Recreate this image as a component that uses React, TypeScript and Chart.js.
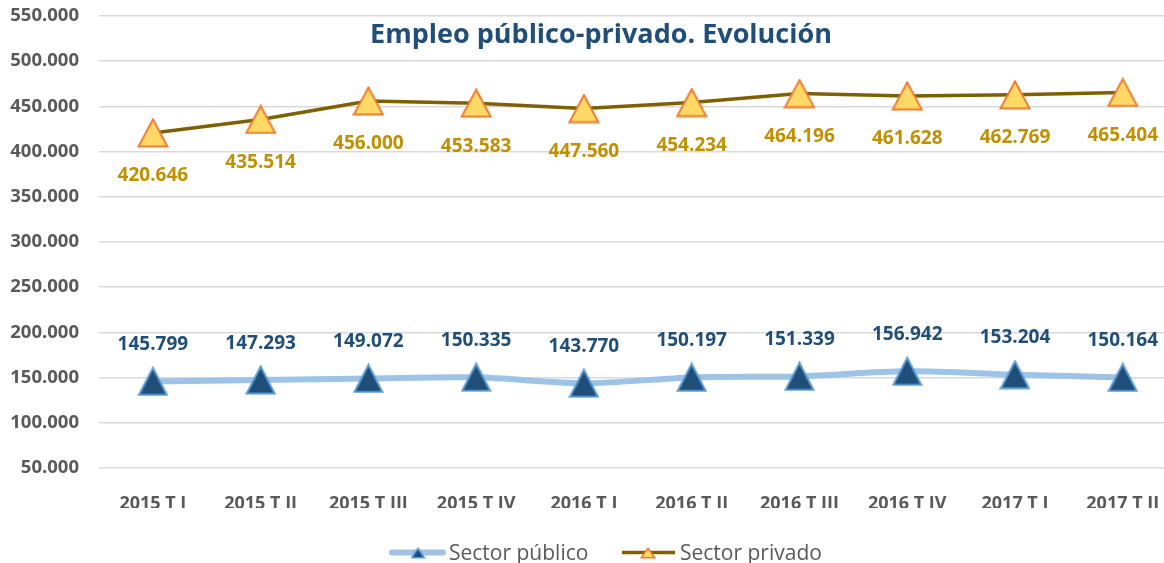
import React, { useEffect, useRef } from "react";
import { Chart, registerables } from "chart.js";

Chart.register(...registerables);

const categories = [
  "2015 T I", "2015 T II", "2015 T III", "2015 T IV",
  "2016 T I", "2016 T II", "2016 T III", "2016 T IV",
  "2017 T I", "2017 T II",
];
const sectorPublico = [145799, 147293, 149072, 150335, 143770, 150197, 151339, 156942, 153204, 150164];
const sectorPrivado = [420646, 435514, 456000, 453583, 447560, 454234, 464196, 461628, 462769, 465404];
const yTicks = [50000, 100000, 150000, 200000, 250000, 300000, 350000, 400000, 450000, 500000, 550000];
const seriesNames = ["Sector público", "Sector privado"];
const titleText = "Empleo público-privado. Evolución";

const FONT = "'Open Sans', 'DejaVu Sans', sans-serif";
const GRAY = "#595959";

const fmt = (n: number) => String(Math.round(n)).replace(/\B(?=(\d{3})+(?!\d))/g, ".");

function triangle(w: number, h: number, fill: string, stroke: string, lw: number) {
  const c = document.createElement("canvas");
  c.width = w;
  c.height = h;
  const ctx = c.getContext("2d")!;
  const i = lw / 2 + 0.5;
  ctx.beginPath();
  ctx.moveTo(w / 2, i);
  ctx.lineTo(w - i, h - i);
  ctx.lineTo(i, h - i);
  ctx.closePath();
  ctx.fillStyle = fill;
  ctx.fill();
  ctx.lineWidth = lw;
  ctx.strokeStyle = stroke;
  ctx.lineJoin = "miter";
  ctx.stroke();
  return c;
}

const zeroPad = (scale: any) => {
  scale.paddingTop = 0;
  scale.paddingBottom = 0;
  scale.paddingLeft = 0;
  scale.paddingRight = 0;
};

export default function App() {
  const ref = useRef<HTMLCanvasElement | null>(null);

  useEffect(() => {
    if (!ref.current) return;
    const pubTri = triangle(31, 30, "#1F4E79", "#5B9BD5", 2);
    const privTri = triangle(32, 30, "#FFD966", "#ED7D31", 2);
    const pubTriS = triangle(15, 12, "#1F4E79", "#5B9BD5", 1.5);
    const privTriS = triangle(16, 12, "#FFD966", "#ED7D31", 1.5);

    const overlay = {
      id: "overlay",
      afterDatasetsDraw(chart: any) {
        const ctx = chart.ctx;
        ctx.save();
        ctx.textAlign = "center";
        ctx.textBaseline = "alphabetic";
        ctx.font = `bold 19px ${FONT}`;
        const pubMeta = chart.getDatasetMeta(0);
        pubMeta.data.forEach((pt: any, i: number) => {
          ctx.fillStyle = "#1F4E79";
          ctx.fillText(fmt(sectorPublico[i]), pt.x, pt.y - 31.5);
        });
        const privMeta = chart.getDatasetMeta(1);
        privMeta.data.forEach((pt: any, i: number) => {
          ctx.fillStyle = "#BF9000";
          ctx.fillText(fmt(sectorPrivado[i]), pt.x, pt.y + 48.5);
        });
        ctx.font = `bold 27px ${FONT}`;
        ctx.fillStyle = "#1F4E79";
        ctx.fillText(titleText, 601, 42.7);
        ctx.lineCap = "round";
        ctx.strokeStyle = "#9DC3E6";
        ctx.lineWidth = 6;
        ctx.beginPath();
        ctx.moveTo(392, 552.5);
        ctx.lineTo(443, 552.5);
        ctx.stroke();
        ctx.drawImage(pubTriS, 418 - pubTriS.width / 2, 553 - pubTriS.height / 2);
        ctx.strokeStyle = "#7F6000";
        ctx.lineWidth = 3.5;
        ctx.lineCap = "butt";
        ctx.beginPath();
        ctx.moveTo(622, 552.5);
        ctx.lineTo(675, 552.5);
        ctx.stroke();
        ctx.drawImage(privTriS, 648 - privTriS.width / 2, 553 - privTriS.height / 2);
        ctx.font = `21px ${FONT}`;
        ctx.fillStyle = GRAY;
        ctx.textAlign = "left";
        ctx.fillText(seriesNames[0], 449, 560);
        ctx.fillText(seriesNames[1], 680, 560);
        ctx.restore();
      },
    };

    const chart = new Chart(ref.current, {
      type: "line",
      data: {
        datasets: [
          {
            label: seriesNames[0],
            data: sectorPublico.map((v, i) => ({ x: i, y: v })),
            borderColor: "#9DC3E6",
            borderWidth: 6,
            tension: 0.3,
            pointStyle: pubTri as any,
            pointRadius: 15,
            pointHoverRadius: 15,
          },
          {
            label: seriesNames[1],
            data: sectorPrivado.map((v, i) => ({ x: i, y: v })),
            borderColor: "#7F6000",
            borderWidth: 3.5,
            tension: 0,
            pointStyle: privTri as any,
            pointRadius: 15,
            pointHoverRadius: 15,
          },
        ],
      },
      options: {
        animation: false,
        responsive: false,
        devicePixelRatio: 1,
        layout: { autoPadding: false, padding: { top: 16, right: 0, bottom: 55, left: 0 } },
        plugins: {
          legend: { display: false },
          title: { display: false },
          tooltip: { enabled: false },
        },
        scales: {
          x: {
            type: "linear",
            min: -0.5,
            max: 9.383,
            grid: { display: false },
            border: { display: false },
            afterBuildTicks: (scale: any) => {
              scale.ticks = categories.map((_, i) => ({ value: i }));
            },
            afterFit: (scale: any) => {
              scale.height = 40;
              zeroPad(scale);
            },
            ticks: {
              autoSkip: false,
              maxRotation: 0,
              padding: 17,
              color: GRAY,
              font: { family: FONT, size: 18, weight: "bold" },
              callback: (v: any) => categories[v] ?? "",
            },
          },
          y: {
            min: yTicks[0],
            max: yTicks[yTicks.length - 1],
            afterBuildTicks: (scale: any) => {
              scale.ticks = yTicks.map((v) => ({ value: v }));
            },
            afterFit: (scale: any) => {
              scale.width = 99;
              zeroPad(scale);
            },
            grid: { color: "#D9D9D9", lineWidth: 1.5, drawTicks: false },
            border: { display: false },
            ticks: {
              padding: 20,
              color: GRAY,
              font: { family: FONT, size: 18.5, weight: "bold" },
              callback: (v: any) => fmt(Number(v)),
            },
          },
        },
      } as any,
      plugins: [overlay],
    });
    return () => chart.destroy();
  }, []);

  return (
    <div style={{ position: "absolute", left: 0, top: 0, width: 1164, height: 563, background: "#fff" }}>
      <canvas ref={ref} width={1164} height={563} style={{ display: "block", width: 1164, height: 563 }} />
    </div>
  );
}
